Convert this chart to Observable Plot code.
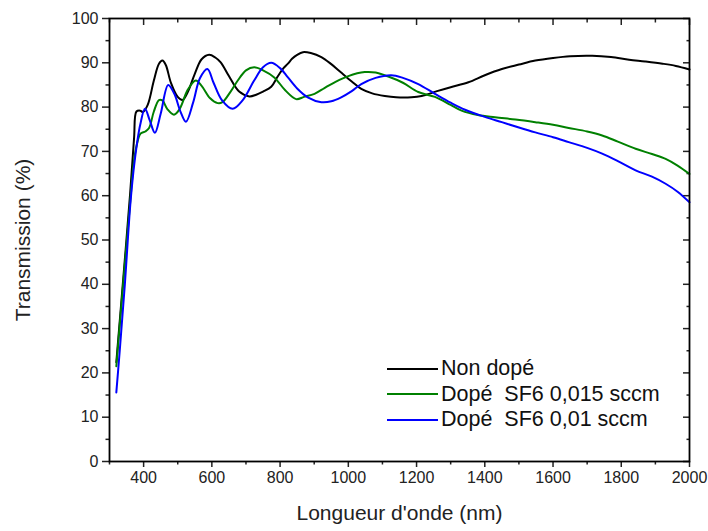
<!DOCTYPE html>
<html><head><meta charset="utf-8">
<script src="https://cdn.jsdelivr.net/npm/d3@7"></script>
<script src="https://cdn.jsdelivr.net/npm/@observablehq/plot@0.6"></script>
<style>
body{margin:0;background:#fff;font-family:"Liberation Sans",Arial,sans-serif;}
#wrap{position:relative;width:708px;height:531px;}
#legend{position:absolute;left:387px;top:356px;font-size:21.5px;color:#111;line-height:1;}
.row{display:flex;align-items:center;height:25.5px;white-space:pre;}
.sw{width:51px;height:0;border-top:2px solid;margin-right:3px;}
</style></head><body><div id="wrap"></div>
<script>
// Series names and colours
const seriesNames = ["Non dopé", "Dopé  SF6 0,015 sccm", "Dopé  SF6 0,01 sccm"];
const seriesColors = ["#000000", "#008000", "#0000ff"];

// Non dopé
const wlNonDope = [320,340,360,372,379,390,398,412,430,445,455,465,480,500,514,530,550,570,592,610,626,650,680,710,730,750,774,792,810,823,835,850,867,890,921,950,979,1010,1038,1070,1107,1140,1185,1215,1260,1300,1352,1400,1450,1500,1548,1600,1650,1715,1770,1823,1870,1921,1960,2000];
const tNonDope  = [22.4,41,60,73,79,79.2,78.9,80.5,86,89.8,90.5,89.5,85.5,82.3,81.6,83.5,87.5,90.8,91.8,91.2,90.1,87,83.5,82.4,82.8,83.5,84.6,86.8,88.8,89.8,90.9,91.8,92.4,92.2,91.3,89.7,87.8,85.8,84.1,83.1,82.5,82.2,82.2,82.5,83.6,84.5,85.6,87.2,88.6,89.6,90.5,91.1,91.5,91.6,91.3,90.7,90.3,89.8,89.3,88.5];

// Dopé SF6 0,015 sccm
const wlDope015 = [320,340,360,372,380,391,405,416,430,445,455,470,489,505,530,553,570,595,617,631,655,676,700,724,750,783,815,847,870,901,930,960,1000,1048,1080,1117,1160,1205,1254,1300,1332,1380,1430,1490,1548,1600,1646,1700,1744,1790,1842,1890,1930,1965,2000];
const tDope015  = [21.5,40,58,68,71.5,74,74.5,75.3,79,81.6,81.5,79.5,78.3,79.5,84,86,84.8,82,80.9,81.1,83.5,86,88.3,89,88.3,86.7,83.8,81.8,82.3,83,84.3,85.6,87,87.9,87.8,86.9,85.5,83.4,82.3,80.5,79.2,78.2,77.7,77.2,76.6,76,75.3,74.5,73.6,72.2,70.6,69.4,68.3,66.8,64.9];

// Dopé SF6 0,01 sccm
const wlDope01 = [320,330,345,362,374,390,404,418,433,450,472,490,508,524,545,565,587,605,630,661,690,724,750,774,800,823,850,881,921,950,979,1010,1038,1080,1126,1160,1205,1254,1300,1342,1400,1450,1500,1548,1600,1646,1700,1744,1790,1842,1890,1930,1965,2000];
const tDope01  = [15.6,25,40,59,68,76,79.6,77,74.2,78.5,85,83,79,76.7,81,86.5,88.6,85.5,81.5,79.6,81.5,86,89,90,88.8,86.7,84.2,82.2,81.1,81.3,82.2,83.6,85.2,86.6,87.2,86.6,85.2,83,81,79.4,77.8,76.6,75.4,74.3,73.2,72.1,70.8,69.5,67.8,65.7,64.3,62.7,60.9,58.5];

// Ticks
const xMajorTicks = [400,600,800,1000,1200,1400,1600,1800,2000];
const xMinorTicks = [300,500,700,900,1100,1300,1500,1700,1900];
const yMajorTicks = [0,10,20,30,40,50,60,70,80,90,100];
const yMinorTicks = [5,15,25,35,45,55,65,75,85,95];

const seriesWl = [wlNonDope, wlDope015, wlDope01];
const seriesT = [tNonDope, tDope015, tDope01];
const data = seriesNames.flatMap((name, i) => seriesWl[i].map((w, j) => ({series: name, wl: w, t: seriesT[i][j]})));

const blank = () => "";
const plain = d => String(d);
const chart = Plot.plot({
  width: 708, height: 531,
  marginLeft: 109, marginRight: 19, marginTop: 18, marginBottom: 70,
  style: {fontFamily: "'Liberation Sans', Arial, sans-serif", color: "#222", background: "white", overflow: "visible"},
  x: {domain: [300, 2000]},
  y: {domain: [0, 100]},
  color: {domain: seriesNames, range: seriesColors},
  marks: [
    Plot.axisX({ticks: xMajorTicks, tickSize: 6, tickPadding: 4, tickFormat: plain, fontSize: 16, label: null, strokeWidth: 1.5}),
    Plot.axisX({ticks: xMinorTicks, tickSize: 3.5, tickFormat: blank, label: null, strokeWidth: 1.5}),
    Plot.axisX({ticks: [], tickSize: 0, label: "Longueur d'onde (nm)", labelAnchor: "center", labelArrow: "none", labelOffset: 58, fontSize: 21}),
    Plot.axisX({anchor: "top", ticks: xMajorTicks, tickSize: -6, tickFormat: blank, label: null, strokeWidth: 1.5}),
    Plot.axisX({anchor: "top", ticks: xMinorTicks, tickSize: -3.5, tickFormat: blank, label: null, strokeWidth: 1.5}),
    Plot.axisY({ticks: yMajorTicks, tickSize: 7, tickPadding: 4, tickFormat: plain, fontSize: 16, label: null, strokeWidth: 1.5}),
    Plot.axisY({ticks: yMinorTicks, tickSize: 3.5, tickFormat: blank, label: null, strokeWidth: 1.5}),
    Plot.axisY({ticks: [], tickSize: 0, label: "Transmission (%)", labelAnchor: "center", labelArrow: "none", labelOffset: 94, fontSize: 21}),
    Plot.axisY({anchor: "right", ticks: yMajorTicks, tickSize: -7, tickFormat: blank, label: null, strokeWidth: 1.5}),
    Plot.axisY({anchor: "right", ticks: yMinorTicks, tickSize: -3.5, tickFormat: blank, label: null, strokeWidth: 1.5}),
    Plot.line(data, {x: "wl", y: "t", z: "series", stroke: "series", curve: "catmull-rom", strokeWidth: 2}),
    Plot.frame({stroke: "black", strokeWidth: 1.8})
  ]
});
const wrap = document.getElementById("wrap");
wrap.appendChild(chart);
const legend = document.createElement("div");
legend.id = "legend";
seriesNames.forEach((name, i) => {
  const row = document.createElement("div");
  row.className = "row";
  const sw = document.createElement("span");
  sw.className = "sw";
  sw.style.borderTopColor = seriesColors[i];
  const label = document.createElement("span");
  label.textContent = name;
  row.appendChild(sw); row.appendChild(label);
  legend.appendChild(row);
});
wrap.appendChild(legend);
</script>
</body></html>
